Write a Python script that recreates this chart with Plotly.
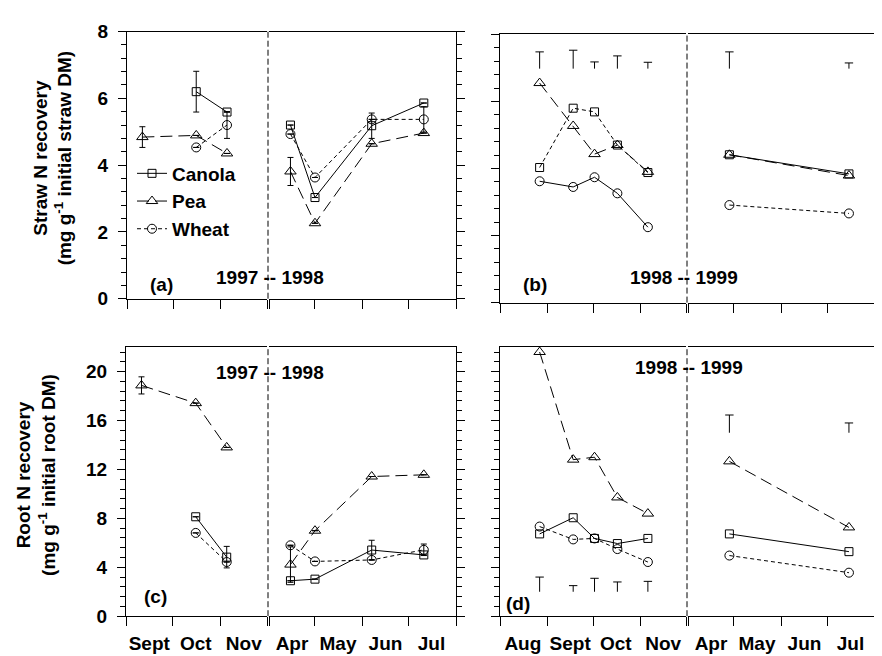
import plotly.graph_objects as go

# ---------------- data ----------------
# sampling dates
dates_9798_fall = ["1997-09-11", "1997-10-16", "1997-11-05"]
dates_9798_spring = ["1998-04-15", "1998-05-01", "1998-06-07", "1998-07-11"]
dates_9899_fall = ["1998-08-27", "1998-09-18", "1998-10-02", "1998-10-17", "1998-11-06"]
dates_9899_spring = ["1999-04-28", "1999-07-15"]

# (a) straw N recovery 1997-98
a_canola_fall = [None, 6.20, 5.59]
a_pea_fall = [4.84, 4.89, 4.35]
a_wheat_fall = [None, 4.53, 5.20]
a_canola_spring = [5.20, 3.03, 5.18, 5.86]
a_pea_spring = [3.81, 2.26, 4.64, 4.96]
a_wheat_spring = [4.93, 3.63, 5.37, 5.37]
a_canola_fall_err = [None, 0.61, None]
a_pea_fall_err = [0.31, None, None]
a_wheat_fall_err = [None, None, 0.40]
a_canola_spring_err = [None, None, 0.38, None]
a_pea_spring_err = [0.42, None, None, None]
a_wheat_spring_err = [None, None, None, 0.38]

# (b) straw N recovery 1998-99
b_canola_fall = [4.03, 5.80, 5.69, 4.70, 3.88]
b_pea_fall = [6.55, 5.27, 4.43, 4.70, 3.90]
b_wheat_fall = [3.62, 3.45, 3.74, 3.26, 2.25]
b_canola_spring = [4.41, 3.84]
b_pea_spring = [4.41, 3.79]
b_wheat_spring = [2.91, 2.66]
b_lsd_fall = [0.50, 0.55, 0.20, 0.38, 0.19]
b_lsd_spring = [0.50, 0.17]
b_lsd_base = 6.98

# (c) root N recovery 1997-98
c_canola_fall = [None, 8.13, 4.83]
c_pea_fall = [18.87, 17.42, 13.80]
c_wheat_fall = [None, 6.81, 4.43]
c_canola_spring = [2.90, 3.03, 5.41, 5.01]
c_pea_spring = [4.22, 6.99, 11.42, 11.56]
c_wheat_spring = [5.80, 4.48, 4.60, 5.43]
c_canola_fall_err = [None, None, 0.88]
c_pea_fall_err = [0.70, None, None]
c_wheat_fall_err = [None, None, None]
c_canola_spring_err = [None, None, 0.80, None]
c_pea_spring_err = [1.45, None, None, None]
c_wheat_spring_err = [None, None, None, 0.47]

# (d) root N recovery 1998-99
d_canola_fall = [6.73, 8.05, 6.36, 5.94, 6.36]
d_pea_fall = [21.6, 12.8, 13.0, 9.71, 8.39]
d_wheat_fall = [7.33, 6.28, 6.36, 5.49, 4.43]
d_canola_spring = [6.73, 5.28]
d_pea_spring = [12.66, 7.26]
d_wheat_spring = [4.96, 3.56]
d_lsd_fall = [1.20, 0.50, 1.10, 0.80, 0.85]
d_lsd_fall_base = 2.0
d_lsd_spring = [1.45, 0.80]
d_lsd_spring_base = 15.0

# tick labels
months_9798_fall = ["Sept", "Oct", "Nov"]
months_9798_spring = ["Apr", "May", "Jun", "Jul"]
months_9899_fall = ["Aug", "Sept", "Oct", "Nov"]
months_9899_spring = ["Apr", "May", "Jun", "Jul"]
month_mid_9798_fall = ["1997-09-16", "1997-10-16", "1997-11-16"]
month_mid_9798_spring = ["1998-04-16", "1998-05-16", "1998-06-16", "1998-07-16"]
month_mid_9899_fall = ["1998-08-16", "1998-09-16", "1998-10-16", "1998-11-16"]
month_mid_9899_spring = ["1999-04-16", "1999-05-16", "1999-06-16", "1999-07-16"]
month_start_9798_fall = ["1997-09-01", "1997-10-01", "1997-11-01", "1997-12-01"]
month_start_9798_spring = ["1998-04-01", "1998-05-01", "1998-06-01", "1998-07-01", "1998-08-01"]
month_start_9899_fall = ["1998-08-01", "1998-09-01", "1998-10-01", "1998-11-01", "1998-12-01"]
month_start_9899_spring = ["1999-04-01", "1999-05-01", "1999-06-01", "1999-07-01", "1999-08-01"]

# ---------------- styling ----------------
FONT = "Liberation Sans, Arial, sans-serif"
FS = 19
W, H = 882, 656
def px(x):
    return x / W
def py(y):
    return 1 - y / H

SOLID = "solid"
LONG = "12px,6px"
SHORT = "4px,3px"
SYM = {"Canola": "square-open", "Pea": "triangle-up-open", "Wheat": "circle-open"}
SIZE = {"Canola": 8, "Pea": 10, "Wheat": 9}

# panel layout (pixels)
panels = {
    "a": dict(xl=(119, 259), xr=(261, 448), y=(290, 14), yr=(0, 8), dt=2, mdt=0.4),
    "b": dict(xl=(492, 678), xr=(680, 867), y=(294, 17), yr=(0, 8), dt=2, mdt=0.4),
    "c": dict(xl=(118, 259), xr=(261, 448), y=(618, 340), yr=(0, 22), dt=4, mdt=0.8),
    "d": dict(xl=(492, 678), xr=(680, 867), y=(618, 340), yr=(0, 22), dt=4, mdt=0.8),
}
axis_ids = {"a": (1, 2), "b": (3, 4), "c": (5, 6), "d": (7, 8)}

fig = go.Figure()

def ax(n, letter):
    return letter if n == 1 else f"{letter}{n}"

def add_series(panel, seg, name, dates, vals, dash, err=None, legend=False):
    nx = axis_ids[panel][0 if seg == "L" else 1]
    tr = go.Scatter(
        x=dates, y=vals, name=name, mode="lines+markers",
        line=dict(color="black", width=1, dash=dash),
        marker=dict(symbol=SYM[name], size=SIZE[name], color="black",
                    line=dict(color="black", width=1)),
        xaxis=ax(nx, "x"), yaxis=ax(nx, "y"),
        showlegend=legend, legendrank={"Canola": 1, "Pea": 2, "Wheat": 3}[name],
    )
    if err is not None:
        tr.error_y = dict(type="data", array=err, symmetric=True,
                          color="black", thickness=1, width=3)
    fig.add_trace(tr)

def add_lsd(panel, seg, dates, lsd, base):
    nx = axis_ids[panel][0 if seg == "L" else 1]
    tops = [base + v for v in lsd]
    fig.add_trace(go.Scatter(
        x=dates, y=tops, mode="markers", showlegend=False,
        marker=dict(symbol="line-ew-open", size=6, color="black",
                    line=dict(color="black", width=1)),
        error_y=dict(type="data", symmetric=False, array=[0] * len(lsd),
                     arrayminus=lsd, color="black", thickness=1, width=0),
        xaxis=ax(nx, "x"), yaxis=ax(nx, "y"),
    ))

# (a)
add_series("a", "L", "Canola", dates_9798_fall, a_canola_fall, SOLID, a_canola_fall_err, True)
add_series("a", "L", "Pea", dates_9798_fall, a_pea_fall, LONG, a_pea_fall_err, True)
add_series("a", "L", "Wheat", dates_9798_fall, a_wheat_fall, SHORT, a_wheat_fall_err, True)
add_series("a", "R", "Canola", dates_9798_spring, a_canola_spring, SOLID, a_canola_spring_err)
add_series("a", "R", "Pea", dates_9798_spring, a_pea_spring, LONG, a_pea_spring_err)
add_series("a", "R", "Wheat", dates_9798_spring, a_wheat_spring, SHORT, a_wheat_spring_err)
# (b)
add_series("b", "L", "Canola", dates_9899_fall, b_canola_fall, SHORT)
add_series("b", "L", "Pea", dates_9899_fall, b_pea_fall, LONG)
add_series("b", "L", "Wheat", dates_9899_fall, b_wheat_fall, SOLID)
add_series("b", "R", "Canola", dates_9899_spring, b_canola_spring, SOLID)
add_series("b", "R", "Pea", dates_9899_spring, b_pea_spring, LONG)
add_series("b", "R", "Wheat", dates_9899_spring, b_wheat_spring, SHORT)
add_lsd("b", "L", dates_9899_fall, b_lsd_fall, b_lsd_base)
add_lsd("b", "R", dates_9899_spring, b_lsd_spring, b_lsd_base)
# (c)
add_series("c", "L", "Canola", dates_9798_fall, c_canola_fall, SOLID, c_canola_fall_err)
add_series("c", "L", "Pea", dates_9798_fall, c_pea_fall, LONG, c_pea_fall_err)
add_series("c", "L", "Wheat", dates_9798_fall, c_wheat_fall, SHORT, c_wheat_fall_err)
add_series("c", "R", "Canola", dates_9798_spring, c_canola_spring, SOLID, c_canola_spring_err)
add_series("c", "R", "Pea", dates_9798_spring, c_pea_spring, LONG, c_pea_spring_err)
add_series("c", "R", "Wheat", dates_9798_spring, c_wheat_spring, SHORT, c_wheat_spring_err)
# (d)
add_series("d", "L", "Canola", dates_9899_fall, d_canola_fall, SOLID)
add_series("d", "L", "Pea", dates_9899_fall, d_pea_fall, LONG)
add_series("d", "L", "Wheat", dates_9899_fall, d_wheat_fall, SHORT)
add_series("d", "R", "Canola", dates_9899_spring, d_canola_spring, SOLID)
add_series("d", "R", "Pea", dates_9899_spring, d_pea_spring, LONG)
add_series("d", "R", "Wheat", dates_9899_spring, d_wheat_spring, SHORT)
add_lsd("d", "L", dates_9899_fall, d_lsd_fall, d_lsd_fall_base)
add_lsd("d", "R", dates_9899_spring, d_lsd_spring, d_lsd_spring_base)

# ---------------- axes ----------------
xinfo = {
    "a": [(month_start_9798_fall, None, None), (month_start_9798_spring, None, None)],
    "b": [(month_start_9899_fall, None, None), (month_start_9899_spring, None, None)],
    "c": [(month_start_9798_fall, month_mid_9798_fall, months_9798_fall),
          (month_start_9798_spring, month_mid_9798_spring, months_9798_spring)],
    "d": [(month_start_9899_fall, month_mid_9899_fall, months_9899_fall),
          (month_start_9899_spring, month_mid_9899_spring, months_9899_spring)],
}

layout = {}
shapes = []
for p, cfg in panels.items():
    nl, nr = axis_ids[p]
    ydom = [py(cfg["y"][0]), py(cfg["y"][1])]
    for n, seg, (starts, mids, labels) in ((nl, "xl", xinfo[p][0]), (nr, "xr", xinfo[p][1])):
        xa = dict(
            type="date", domain=[px(cfg[seg][0]), px(cfg[seg][1])],
            range=[starts[0], starts[-1]], anchor=ax(n, "y"),
            showline=True, linecolor="black", linewidth=1, mirror=True,
            showgrid=False, zeroline=False, fixedrange=True,
            ticks="outside", ticklen=10, tickcolor="rgba(0,0,0,0)",
            minor=dict(tickmode="array", tickvals=starts, ticks="outside",
                       ticklen=9, tickcolor="black", tickwidth=1, showgrid=False),
            tickfont=dict(family=FONT, size=FS, color="black", weight="bold"),
        )
        if labels:
            xa.update(tickmode="array", tickvals=mids, ticktext=labels, showticklabels=True)
        else:
            xa.update(tickmode="array", tickvals=starts, showticklabels=False)
        layout[ax(n, "xaxis")] = xa
        ya = dict(
            domain=ydom, range=list(cfg["yr"]), anchor=ax(n, "x"),
            side="left" if n == nl else "right",
            showline=True, linecolor="black", linewidth=1,
            showgrid=False, zeroline=False, fixedrange=True,
            tickmode="linear", tick0=0, dtick=cfg["dt"],
            ticks="outside", ticklen=8, tickcolor="black", tickwidth=1,
            minor=dict(dtick=cfg["mdt"], tick0=0, ticks="outside", ticklen=5,
                       tickcolor="black", tickwidth=1, showgrid=False),
            showticklabels=(n == nl and p in ("a", "c")),
            ticklabelstandoff=6,
            tickfont=dict(family=FONT, size=FS, color="black", weight="bold"),
        )
        if n == nr:
            ya["matches"] = ax(nl, "y")
        layout[ax(n, "yaxis")] = ya
    # dashed break line between the two seasons
    xdiv = (cfg["xl"][1] + cfg["xr"][0]) / 2
    shapes.append(dict(type="line", xref="paper", yref="paper",
                       x0=px(xdiv), x1=px(xdiv), y0=ydom[0], y1=ydom[1],
                       line=dict(color="black", width=1, dash="6px,3px")))

annots = []
def note(text, x, y, size=FS, angle=0):
    annots.append(dict(text=text, x=px(x), y=py(y), xref="paper", yref="paper",
                       xanchor="center", yanchor="middle", showarrow=False,
                       textangle=angle,
                       font=dict(family=FONT, size=size, color="black", weight="bold")))

note("(a)", 153, 275)
note("1997 -- 1998", 262, 268)
note("(b)", 527, 275)
note("1998 -- 1999", 676, 268)
note("(c)", 147, 598)
note("1997 -- 1998", 262, 366)
note("(d)", 510, 605)
note("1998 -- 1999", 681, 361)
note("Straw N recovery<br>(mg g<sup>-1</sup> initial straw DM)", 45, 145, angle=-90)
note("Root N recovery<br>(mg g<sup>-1</sup> initial root DM)", 28, 472, angle=-90)

fig.update_layout(
    width=W, height=H, margin=dict(l=0, r=0, t=0, b=0),
    paper_bgcolor="white", plot_bgcolor="white",
    font=dict(family=FONT, size=FS, color="black", weight="bold"),
    showlegend=True,
    legend=dict(x=px(124), y=py(141), xanchor="left", yanchor="top",
                bgcolor="rgba(0,0,0,0)", borderwidth=0,
                font=dict(family=FONT, size=FS, color="black", weight="bold"),
                itemwidth=30, tracegroupgap=0),
    shapes=shapes, annotations=annots,
    **layout,
)

fig.write_html("out.html")
